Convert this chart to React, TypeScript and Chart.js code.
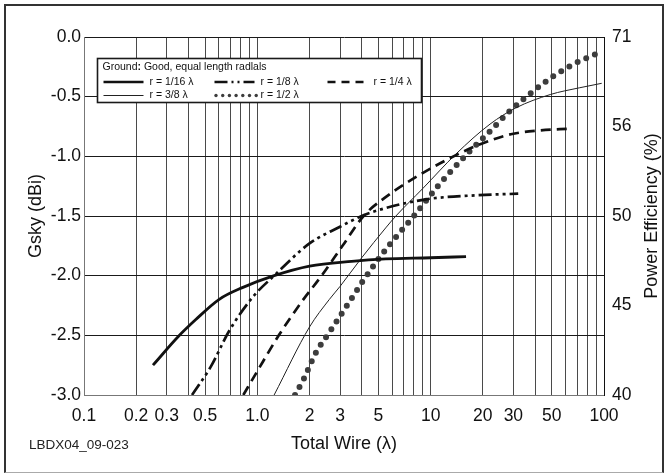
import { useEffect, useRef } from 'react';
import { Chart, registerables } from 'chart.js';

Chart.register(...registerables);

// ---------- data ----------
const r16X = [0.25, 0.35, 0.44, 0.6, 0.82, 1.25, 2.0, 3.5, 5.5, 10, 16];
const r16Y = [-2.75, -2.51, -2.37, -2.2, -2.1, -2.0, -1.92, -1.88, -1.86, -1.85, -1.84];

const r8X = [0.42, 0.54, 0.69, 0.94, 1.25, 2.0, 3.0, 4.0, 5.3, 9.4, 18, 32];
const r8Y = [-3.0, -2.76, -2.46, -2.18, -2.0, -1.73, -1.59, -1.5, -1.44, -1.36, -1.327, -1.313];

const r4X = [0.83, 1.0, 1.33, 1.8, 2.35, 3.1, 4.1, 5.4, 8.3, 14, 20, 29, 41, 65];
const r4Y = [-3.0, -2.8, -2.5, -2.22, -2.0, -1.75, -1.5, -1.35, -1.17, -0.99, -0.89, -0.815, -0.785, -0.768];

const r38X = [1.25, 2.0, 2.6, 3.0, 4.0, 5.5, 6.3, 9.0, 14, 22, 31, 49, 72, 97];
const r38Y = [-3.0, -2.43, -2.2, -2.09, -1.85, -1.6, -1.5, -1.27, -0.98, -0.73, -0.594, -0.482, -0.426, -0.388];

const r12X = [1.65, 1.86, 2.17, 2.66, 3.5, 4.0, 5.0, 5.8, 8.0, 11, 13, 16.8, 22, 28.5, 38, 51, 71, 99];
const r12Y = [-3.0, -2.86, -2.65, -2.455, -2.19, -2.06, -1.86, -1.74, -1.5, -1.25, -1.13, -0.958, -0.79, -0.623, -0.468, -0.329, -0.208, -0.119];

const seriesLabels = ['r = 1/16 λ', 'r = 1/8 λ', 'r = 1/4 λ', 'r = 3/8 λ', 'r = 1/2 λ'];

const xTickValues = [0.1, 0.2, 0.3, 0.5, 1, 2, 3, 5, 10, 20, 30, 50, 100];
const xTickLabels = ['0.1', '0.2', '0.3', '0.5', '1.0', '2', '3', '5', '10', '20', '30', '50', '100'];
const yTickValues = [0, -0.5, -1.0, -1.5, -2.0, -2.5, -3.0];
const rightTickValues = [0, -0.75, -1.5, -2.25, -3.0];
const rightTickLabels = ['71', '56', '50', '45', '40'];

const legendTitle = ['Ground', ':', ' Good, equal length radlals'];
const rightTitle = 'Power Efficiency (%)';
const figureId = 'LBDX04_09-023';

// ---------- helpers ----------
const FONT = '"Liberation Sans", Arial, Helvetica, sans-serif';
const TICK_SIZE = 17.5;
const TITLE_SIZE = 18;

const xGridValues: number[] = [];
for (let e = -1; e <= 1; e++) {
  for (let m = 1; m <= 9; m++) xGridValues.push(parseFloat((m * Math.pow(10, e)).toPrecision(3)));
}
xGridValues.push(100);

const pts = (xs: number[], ys: number[]) => xs.map((x, i) => ({ x, y: ys[i] }));
const near = (a: number, b: number) => Math.abs(a - b) <= Math.abs(b) * 1e-6 + 1e-9;

const styles = [
  { color: '#111', width: 2.8, dash: [] as number[], cap: 'butt' },
  { color: '#111', width: 2.7, dash: [13, 4, 3, 4, 3, 4], cap: 'butt' },
  { color: '#111', width: 2.7, dash: [10, 6], cap: 'butt' },
  { color: '#222', width: 1, dash: [] as number[], cap: 'butt' },
  { color: '#3d3d3d', width: 6, dash: [0, 9.4], cap: 'round' },
];

const legendPlugin = {
  id: 'boxLegend',
  afterDraw(chart: any) {
    const { ctx, chartArea } = chart;
    const bx = chartArea.left + 13.5;
    const by = chartArea.top + 21.5;
    const bw = 324;
    const bh = 44;
    ctx.save();
    ctx.fillStyle = '#fff';
    ctx.fillRect(bx, by, bw, bh);
    ctx.strokeStyle = '#1a1a1a';
    ctx.lineWidth = 1.6;
    ctx.strokeRect(bx, by, bw, bh);

    // title
    ctx.fillStyle = '#111';
    ctx.textBaseline = 'middle';
    ctx.textAlign = 'left';
    let tx = bx + 5;
    const ty = by + 8.5;
    ctx.font = `10.5px ${FONT}`;
    ctx.fillText(legendTitle[0], tx, ty);
    tx += ctx.measureText(legendTitle[0]).width;
    ctx.font = `bold 10.5px ${FONT}`;
    ctx.fillText(legendTitle[1], tx, ty);
    tx += ctx.measureText(legendTitle[1]).width;
    ctx.font = `10.5px ${FONT}`;
    ctx.fillText(legendTitle[2], tx, ty);

    const slots = [
      { x: bx + 6, y: by + 23.5 },
      { x: bx + 117, y: by + 23.5 },
      { x: bx + 230, y: by + 23.5 },
      { x: bx + 6, y: by + 37 },
      { x: bx + 117, y: by + 37 },
    ];
    slots.forEach((s, i) => {
      const st = styles[i];
      ctx.save();
      if (i === 4) {
        ctx.fillStyle = st.color;
        for (let k = 0; k < 7; k++) {
          ctx.beginPath();
          ctx.arc(s.x + 1.5 + k * 6.7, s.y, 1.7, 0, Math.PI * 2);
          ctx.fill();
        }
      } else {
        ctx.strokeStyle = st.color;
        ctx.lineWidth = i === 3 ? 1 : 2.3;
        if (i === 1) ctx.setLineDash([13, 4, 2, 4, 2, 4]);
        else if (i === 2) ctx.setLineDash([8, 6]);
        else ctx.setLineDash([]);
        ctx.beginPath();
        ctx.moveTo(s.x, s.y);
        ctx.lineTo(s.x + 40, s.y);
        ctx.stroke();
      }
      ctx.restore();
      ctx.fillStyle = '#111';
      ctx.font = `10.5px ${FONT}`;
      ctx.fillText(seriesLabels[i], s.x + 46, s.y);
    });

    // right axis title, reading bottom to top
    ctx.save();
    ctx.translate(652, (chartArea.top + chartArea.bottom) / 2);
    ctx.rotate(-Math.PI / 2);
    ctx.textAlign = 'center';
    ctx.textBaseline = 'middle';
    ctx.font = `${TITLE_SIZE}px ${FONT}`;
    ctx.fillStyle = '#111';
    ctx.fillText(rightTitle, 0, 0);
    ctx.restore();

    // figure id
    ctx.font = `13.5px ${FONT}`;
    ctx.fillStyle = '#222';
    ctx.textAlign = 'left';
    ctx.fillText(figureId, 29, 445);
    ctx.restore();
  },
};

export default function App() {
  const ref = useRef<HTMLCanvasElement | null>(null);

  useEffect(() => {
    document.body.style.margin = '0';
    const canvas = ref.current;
    if (!canvas) return;
    const series = [pts(r16X, r16Y), pts(r8X, r8Y), pts(r4X, r4Y), pts(r38X, r38Y), pts(r12X, r12Y)];
    const chart = new Chart(canvas, {
      type: 'line',
      data: {
        datasets: series.map((d, i) => ({
          label: seriesLabels[i],
          data: d,
          borderColor: styles[i].color,
          borderWidth: styles[i].width,
          borderDash: styles[i].dash,
          borderCapStyle: styles[i].cap as any,
          pointRadius: 0,
          fill: false,
          cubicInterpolationMode: 'monotone' as const,
          xAxisID: 'x',
          yAxisID: 'y',
        })),
      },
      options: {
        animation: false,
        responsive: false,
        devicePixelRatio: 1,
        layout: { padding: { top: 37, left: 0, right: 0, bottom: 0 } },
        plugins: { legend: { display: false }, tooltip: { enabled: false } },
        scales: {
          x: {
            type: 'logarithmic',
            min: 0.1,
            max: 100,
            afterBuildTicks: (s: any) => {
              s.ticks = xGridValues.map((v) => ({ value: v }));
            },
            afterFit: (s: any) => {
              s.height = 79;
            },
            ticks: {
              autoSkip: false,
              maxRotation: 0,
              padding: 11,
              color: '#111',
              font: { family: FONT, size: TICK_SIZE },
              callback: (v: any) => {
                const i = xTickValues.findIndex((t) => near(Number(v), t));
                return i >= 0 ? xTickLabels[i] : '';
              },
            },
            grid: { color: '#4a4a4a', drawTicks: false, lineWidth: 1 },
            border: { color: '#777' },
            title: {
              display: true,
              text: 'Total Wire (λ)',
              color: '#111',
              font: { family: FONT, size: TITLE_SIZE },
              padding: { top: 0, bottom: 19 },
            },
          },
          y: {
            type: 'linear',
            position: 'left',
            min: -3,
            max: 0,
            afterBuildTicks: (s: any) => {
              s.ticks = yTickValues.map((v) => ({ value: v }));
            },
            afterFit: (s: any) => {
              s.width = 84;
            },
            ticks: {
              padding: 3,
              color: '#111',
              font: { family: FONT, size: TICK_SIZE },
              callback: (v: any) => Number(v).toFixed(1),
            },
            grid: { color: '#1a1a1a', drawTicks: false, lineWidth: 1 },
            border: { color: '#777' },
            title: {
              display: true,
              text: 'Gsky (dBi)',
              color: '#111',
              font: { family: FONT, size: TITLE_SIZE },
              padding: { top: 25, bottom: 0 },
            },
          },
          y2: {
            type: 'linear',
            position: 'right',
            min: -3,
            max: 0,
            afterBuildTicks: (s: any) => {
              s.ticks = rightTickValues.map((v) => ({ value: v }));
            },
            afterFit: (s: any) => {
              s.width = 65;
            },
            ticks: {
              padding: 8,
              color: '#111',
              font: { family: FONT, size: TICK_SIZE },
              callback: (v: any) => {
                const i = rightTickValues.findIndex((t) => near(Number(v), t));
                return i >= 0 ? rightTickLabels[i] : '';
              },
            },
            grid: { drawOnChartArea: false, drawTicks: false },
            border: { color: '#111' },
            title: { display: false },
          },
        },
      },
      plugins: [legendPlugin],
    });
    return () => chart.destroy();
  }, []);

  return (
    <div style={{ position: 'relative', width: 669, height: 474, background: '#fff' }}>
      <canvas ref={ref} width={669} height={474} style={{ position: 'absolute', left: 0, top: 0 }} />
      <div
        style={{
          position: 'absolute',
          left: 4,
          top: 4,
          width: 660,
          height: 469,
          boxSizing: 'border-box',
          borderTop: '2px solid #333',
          borderLeft: '2px solid #333',
          borderRight: '2px solid #333',
          borderBottom: '1px solid #aaa',
          pointerEvents: 'none',
        }}
      />
    </div>
  );
}
